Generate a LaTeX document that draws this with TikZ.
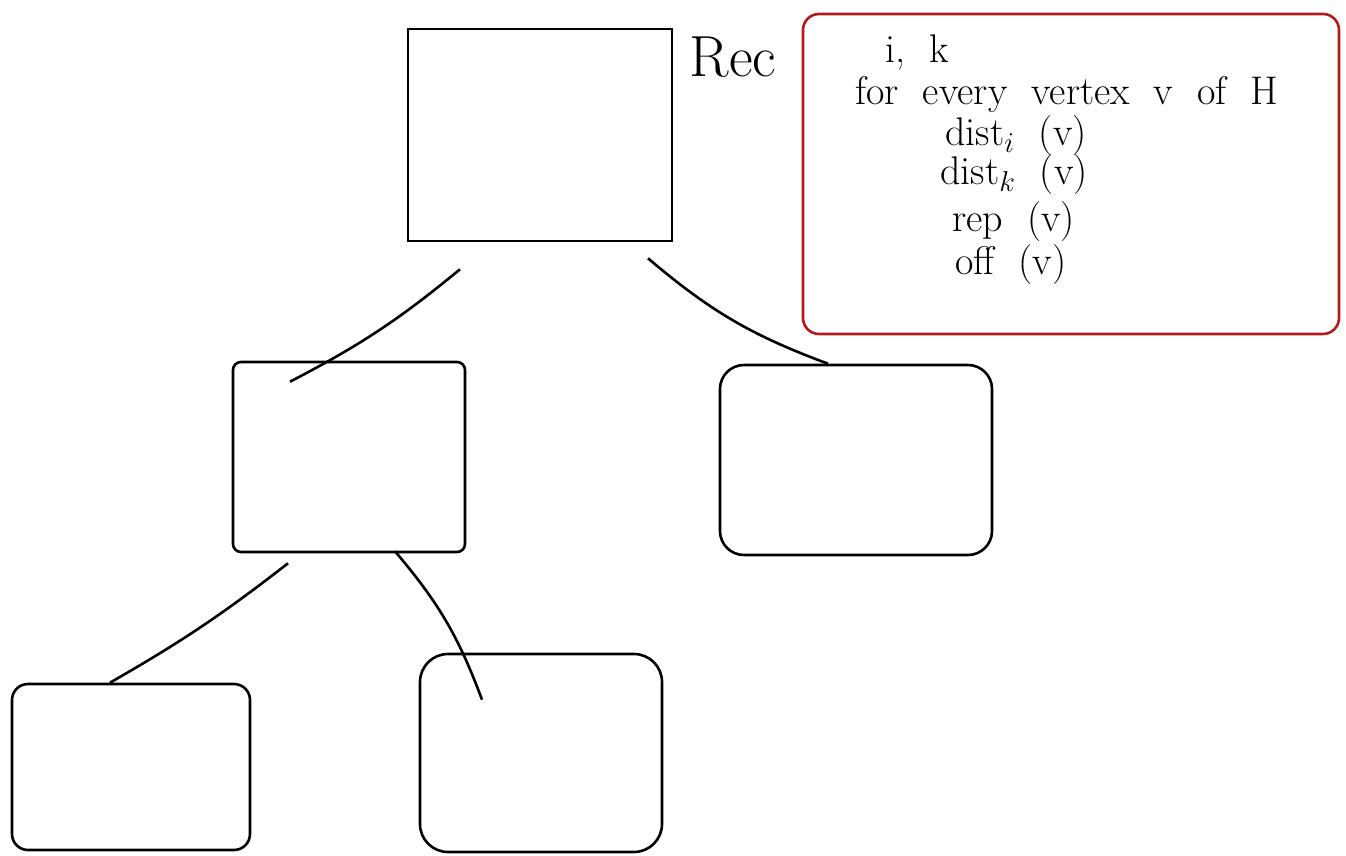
\documentclass[tikz,border=0pt]{standalone}
\usetikzlibrary{calc}
\definecolor{penred}{RGB}{180,24,24}
\newcommand{\notefont}{\fontsize{20}{22}\selectfont\spaceskip=0.6em\relax}
\begin{document}
\begin{tikzpicture}[x=0.5pt,y=-0.5pt,
    box/.style ={draw, line width=1.3pt, inner sep=0pt},
    note/.style ={draw=penred, line width=1.3pt, rounded corners=8pt, inner sep=0pt},
    word/.style ={anchor=west, inner sep=0pt, font=\notefont}]
   \useasboundingbox (0,0) rectangle (1346,856);
   \node[box, minimum width=132pt, minimum height=106pt] (R)  at (540,135)  {};
   \node[box, rounded corners=4pt, minimum width=116pt, minimum height=95pt] (A)  at (349,457)  {};
   \node[box, rounded corners=12pt, minimum width=136pt, minimum height=95pt] (B)  at (856,460)  {};
   \node[box, rounded corners=8pt, minimum width=119pt, minimum height=83pt] (C)  at (131,767)  {};
   \node[box, rounded corners=14pt, minimum width=121pt, minimum height=99pt] (D)  at (541,753)  {};
   \node[anchor=center, inner sep=0pt, font=\fontsize{29}{31}\selectfont] (rec)  at (733,57)  {Rec};
   \node[note, minimum width=268pt, minimum height=160pt] (info)  at (1071,174)  {};
   \node[word] (ik)  at (885,53)  {i, k};
   \node[word] (every)  at (855,95)  {for every vertex v of H};
   \node[word] (di)  at (945,136)  {dist$_i$ (v)};
   \node[word] (dk)  at (940,175)  {dist$_k$ (v)};
   \node[word] (rep)  at (952,222)  {rep (v)};
   \node[word] (off)  at (955,265)  {off (v)};
   \draw[line width=1.3pt] ($(R.south)+(-80,27)$) to  [bend left=6] ($(A.north)+(-59,21)$);
   \draw[line width=1.3pt] ($(R.south)+(108,16)$) to  [bend right=10] ($(B.north)+(-28,0)$);
   \draw[line width=1.3pt] ($(A.south)+(-61,10)$) to  [bend left=4] ($(C.north)+(-21,0)$);
   \draw[line width=1.3pt] ($(A.south)+(46,-2)$) to  [bend left=10] ($(D.north)+(-59,47)$);
 \end{tikzpicture}
\end{document}
